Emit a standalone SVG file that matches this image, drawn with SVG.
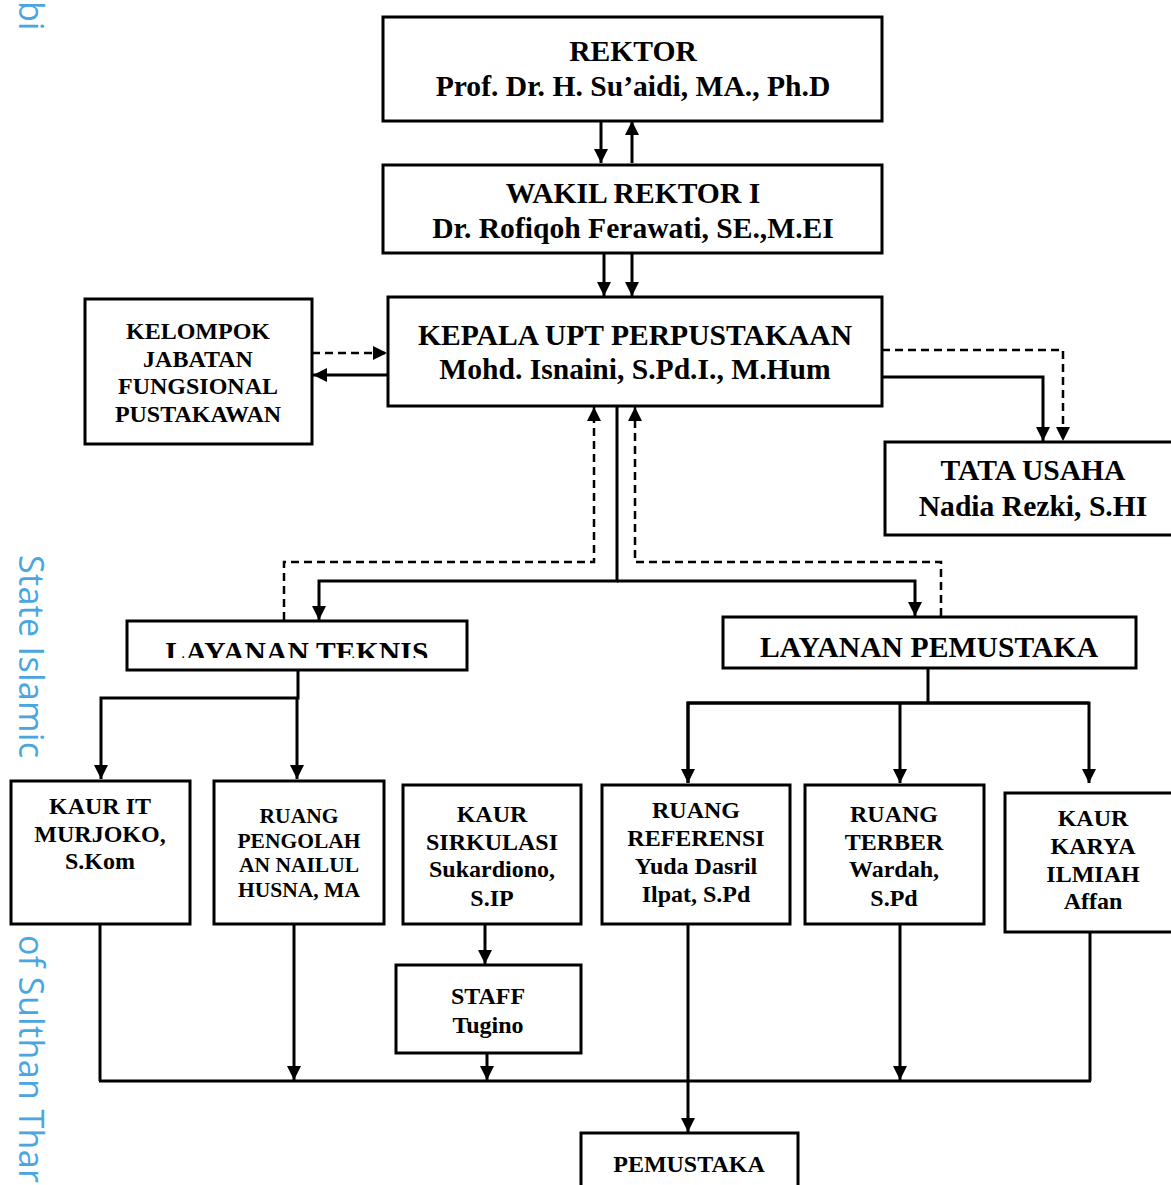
<svg xmlns="http://www.w3.org/2000/svg" width="1171" height="1185" viewBox="0 0 1171 1185">
<style>
.box{fill:#fff;stroke:#000;stroke-width:3}
.t{font-family:"Liberation Serif","Times New Roman",serif;font-weight:bold;fill:#000;text-anchor:middle}
.big{font-size:29.6px}
.mid{font-size:24px}
.sm{font-size:21.5px}
.ln{fill:none;stroke:#000;stroke-width:3}
.dl{fill:none;stroke:#000;stroke-width:2.5;stroke-dasharray:8 5}
.wm{font-family:"Open Sans","DejaVu Sans",sans-serif;font-size:34px;fill:#4aa6e0}
</style>
<defs>
<marker id="ah" markerUnits="userSpaceOnUse" markerWidth="16" markerHeight="16" refX="14" refY="7" orient="auto">
<path d="M0,0 L14,7 L0,14 z" fill="#000"/>
</marker>
<clipPath id="clipLT"><rect x="120" y="615" width="360" height="43"/></clipPath>
</defs>

<g id="watermark">
<text class="wm" transform="translate(19,1) rotate(90)">bi</text>
<text class="wm" transform="translate(19,555) rotate(90)" textLength="203">State Islamic</text>
<text class="wm" transform="translate(19,935) rotate(90)" textLength="248">of Sulthan Thar</text>
</g>

<g id="connectors">
<line class="ln" x1="601" y1="121" x2="601" y2="163" marker-end="url(#ah)"/>
<line class="ln" x1="632" y1="163" x2="632" y2="121" marker-end="url(#ah)"/>
<line class="ln" x1="604" y1="253" x2="604" y2="296" marker-end="url(#ah)"/>
<line class="ln" x1="632" y1="253" x2="632" y2="296" marker-end="url(#ah)"/>
<line class="dl" x1="312" y1="353" x2="387" y2="353" marker-end="url(#ah)"/>
<line class="ln" x1="388" y1="375" x2="313" y2="375" marker-end="url(#ah)"/>
<polyline class="dl" points="882,350 1063,350 1063,441" marker-end="url(#ah)"/>
<polyline class="ln" points="882,377 1043,377 1043,441" marker-end="url(#ah)"/>
<polyline class="ln" points="617,406 617,581 319,581 319,620" marker-end="url(#ah)"/>
<polyline class="ln" points="617,581 915,581 915,616" marker-end="url(#ah)"/>
<polyline class="dl" points="284,620 284,562 594,562 594,407" marker-end="url(#ah)"/>
<polyline class="dl" points="941,616 941,562 635,562 635,407" marker-end="url(#ah)"/>
<polyline class="ln" points="298,670 298,698 101,698 101,779" marker-end="url(#ah)"/>
<line class="ln" x1="297" y1="698" x2="297" y2="779" marker-end="url(#ah)"/>
<line class="ln" x1="928" y1="668" x2="928" y2="703"/>
<polyline class="ln" points="688,783 688,703 1089,703 1089,783" marker-end="url(#ah)"/>
<polyline class="ln" points="1089,703 688,703 688,783" marker-end="url(#ah)"/>
<line class="ln" x1="900" y1="703" x2="900" y2="783" marker-end="url(#ah)"/>
<line class="ln" x1="485" y1="924" x2="485" y2="964" marker-end="url(#ah)"/>
<line class="ln" x1="99" y1="1081" x2="1091" y2="1081"/>
<line class="ln" x1="100" y1="924" x2="100" y2="1081"/>
<line class="ln" x1="294" y1="924" x2="294" y2="1080" marker-end="url(#ah)"/>
<line class="ln" x1="487" y1="1053" x2="487" y2="1080" marker-end="url(#ah)"/>
<line class="ln" x1="900" y1="924" x2="900" y2="1080" marker-end="url(#ah)"/>
<line class="ln" x1="1090" y1="932" x2="1090" y2="1081"/>
<line class="ln" x1="688" y1="924" x2="688" y2="1132" marker-end="url(#ah)"/>
</g>

<g id="rektor">
<rect class="box" x="383" y="17" width="499" height="104"/>
<text class="t big" x="633" y="61">REKTOR</text>
<text class="t big" x="633" y="96">Prof. Dr. H. Su’aidi, MA., Ph.D</text>
</g>

<g id="wakil-rektor">
<rect class="box" x="383" y="165" width="499" height="88"/>
<text class="t big" x="633" y="203">WAKIL REKTOR I</text>
<text class="t big" x="633" y="238">Dr. Rofiqoh Ferawati, SE.,M.EI</text>
</g>

<g id="kepala">
<rect class="box" x="388" y="297" width="494" height="109"/>
<text class="t big" x="635" y="345">KEPALA UPT PERPUSTAKAAN</text>
<text class="t big" x="635" y="379">Mohd. Isnaini, S.Pd.I., M.Hum</text>
</g>

<g id="kelompok">
<rect class="box" x="85" y="299" width="227" height="145"/>
<text class="t mid" x="198" y="339">KELOMPOK</text>
<text class="t mid" x="198" y="367">JABATAN</text>
<text class="t mid" x="198" y="394">FUNGSIONAL</text>
<text class="t mid" x="198" y="422">PUSTAKAWAN</text>
</g>

<g id="tata-usaha">
<rect class="box" x="885" y="442" width="290" height="93"/>
<text class="t big" x="1033" y="480">TATA USAHA</text>
<text class="t big" x="1033" y="516">Nadia Rezki, S.HI</text>
</g>

<g id="layanan-teknis">
<rect class="box" x="127" y="621" width="340" height="49"/>
<text class="t big" x="297" y="662" clip-path="url(#clipLT)" textLength="263" lengthAdjust="spacing">LAYANAN TEKNIS</text>
</g>

<g id="layanan-pemustaka">
<rect class="box" x="723" y="617" width="413" height="51"/>
<text class="t big" x="929" y="657" textLength="338" lengthAdjust="spacing">LAYANAN PEMUSTAKA</text>
</g>

<g id="kaur-it">
<rect class="box" x="11" y="781" width="179" height="143"/>
<text class="t mid" x="100" y="814">KAUR IT</text>
<text class="t mid" x="100" y="842">MURJOKO,</text>
<text class="t mid" x="100" y="869">S.Kom</text>
</g>

<g id="ruang-pengolah">
<rect class="box" x="214" y="781" width="170" height="143"/>
<text class="t sm" x="299" y="823">RUANG</text>
<text class="t sm" x="299" y="848">PENGOLAH</text>
<text class="t sm" x="299" y="872">AN NAILUL</text>
<text class="t sm" x="299" y="897">HUSNA, MA</text>
</g>

<g id="kaur-sirkulasi">
<rect class="box" x="403" y="785" width="178" height="139"/>
<text class="t mid" x="492" y="822">KAUR</text>
<text class="t mid" x="492" y="850">SIRKULASI</text>
<text class="t mid" x="492" y="877">Sukardiono,</text>
<text class="t mid" x="492" y="906">S.IP</text>
</g>

<g id="ruang-referensi">
<rect class="box" x="602" y="785" width="188" height="139"/>
<text class="t mid" x="696" y="818">RUANG</text>
<text class="t mid" x="696" y="846">REFERENSI</text>
<text class="t mid" x="696" y="874">Yuda Dasril</text>
<text class="t mid" x="696" y="902">Ilpat, S.Pd</text>
</g>

<g id="ruang-terber">
<rect class="box" x="805" y="785" width="179" height="139"/>
<text class="t mid" x="894" y="822">RUANG</text>
<text class="t mid" x="894" y="850">TERBER</text>
<text class="t mid" x="894" y="877">Wardah,</text>
<text class="t mid" x="894" y="906">S.Pd</text>
</g>

<g id="kaur-karya-ilmiah">
<rect class="box" x="1005" y="793" width="170" height="139"/>
<text class="t mid" x="1093" y="826">KAUR</text>
<text class="t mid" x="1093" y="854">KARYA</text>
<text class="t mid" x="1093" y="882">ILMIAH</text>
<text class="t mid" x="1093" y="909">Affan</text>
</g>

<g id="staff">
<rect class="box" x="396" y="965" width="185" height="88"/>
<text class="t mid" x="488" y="1004">STAFF</text>
<text class="t mid" x="488" y="1033">Tugino</text>
</g>

<g id="pemustaka">
<rect class="box" x="581" y="1133" width="217" height="60"/>
<text class="t mid" x="689" y="1172">PEMUSTAKA</text>
</g>
</svg>
